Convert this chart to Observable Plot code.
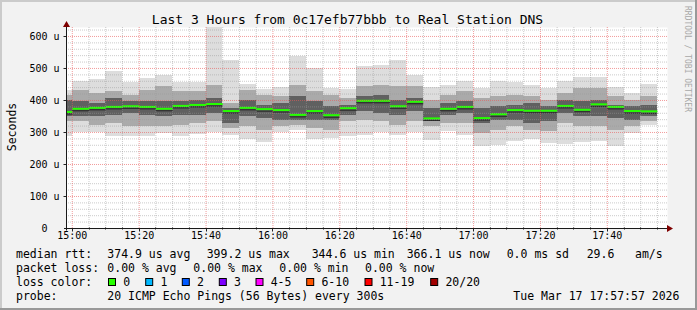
<!DOCTYPE html>
<html><head><meta charset="utf-8">
<script src="https://cdn.jsdelivr.net/npm/d3@7"></script>
<script src="https://cdn.jsdelivr.net/npm/@observablehq/plot@0.6"></script>
<style>html,body{margin:0;padding:0;background:#f2f2f2;} svg{display:block}</style>
</head><body><div id="chart"></div>
<script>
// ---------- data ----------
const day = "2026-03-17";
const slots = ["14:55","15:00","15:05","15:10","15:15","15:20","15:25","15:30","15:35","15:40","15:45","15:50",
  "15:55","16:00","16:05","16:10","16:15","16:20","16:25","16:30","16:35","16:40","16:45","16:50",
  "16:55","17:00","17:05","17:10","17:15","17:20","17:25","17:30","17:35","17:40","17:45","17:50"];
// RTT in microseconds
const rttMax = [432,460,466,489,456,470,479,455,455,640,526,451,434,441,536,500,437,434,505,508,526,479,440,448,458,437,458,455,448,437,458,472,472,440,422,451];
const rttHi1 = [417,432,422,427,417,432,443,427,427,448,391,432,417,411,448,427,417,406,443,448,443,443,401,417,427,406,411,417,411,401,422,437,437,411,401,411];
const rttHi2 = [401,396,391,406,396,396,396,396,401,406,375,401,385,391,411,396,380,385,411,417,401,406,375,391,396,375,380,385,391,380,401,396,401,385,380,385];
const rttMed = [364,374,377,380,382,380,374,383,386,389,367,377,373,370,355,367,354,376,399,399,382,396,344,374,380,345,357,370,368,368,383,371,388,380,367,366];
const rttLo2 = [349,349,349,354,359,354,349,354,354,359,328,349,344,338,338,338,338,354,365,359,354,365,335,354,359,328,338,338,328,333,359,349,349,344,338,349];
const rttLo1 = [333,333,323,328,318,318,318,323,328,333,312,318,307,318,323,312,307,333,338,333,323,333,318,328,328,297,307,318,307,302,328,318,318,307,318,333];
const rttMin = [289,299,299,286,289,289,297,289,295,300,290,277,268,300,305,278,280,288,292,299,292,300,276,302,292,255,258,273,277,267,263,269,271,257,298,323];
const bucketMinutes = 5;
const viewStart = "14:58:16", viewEnd = "17:58:00";
const xTickLabels = ["15:00","15:20","15:40","16:00","16:20","16:40","17:00","17:20","17:40"];
const yTicks = [0,100,200,300,400,500,600];
const yTickLabels = ["0","100 u","200 u","300 u","400 u","500 u","600 u"];
const yMax = 628;

const title = "Last 3 Hours from 0c17efb77bbb to Real Station DNS";
const yLabel = "Seconds";
const watermark = "RRDTOOL / TOBI OETIKER";
const rttStats = [["374.9 us avg",107.3],["399.2 us max",206.7],["344.6 us min",311.7],["366.1 us now",406.7],["0.0 ms sd",506.7],["29.6",586.7],["am/s",635]];
const lossStats = [["0.00 % avg",107.3],["0.00 % max",193.3],["0.00 % min",279.3],["0.00 % now",365]];
const lossLabels = ["0","1","2","3","4-5","6-10","11-19","20/20"];
const lossColors = ["#26ff00","#00b8ff","#0059ff","#7e00ff","#ff00ff","#ff5500","#ff0000","#a10000"];
const lossBoxX = [108.5,145.7,182.3,219.3,256,306.7,365,430.7];
const probeText = "20 ICMP Echo Pings (56 Bytes) every 300s";
const stamp = "Tue Mar 17 17:57:57 2026";

// ---------- build ----------
const t = s => new Date(`${day}T${s.length === 5 ? s + ":00" : s}Z`);
const rows = slots.map((s, i) => ({
  start: t(s), end: new Date(+t(s) + bucketMinutes * 60000),
  max: rttMax[i], hi1: rttHi1[i], hi2: rttHi2[i], med: rttMed[i], lo2: rttLo2[i], lo1: rttLo1[i], min: rttMin[i]
}));
const xDomain = [t(viewStart), t(viewEnd)];
const majorX = xTickLabels.map(t);
const minorX = d3.utcMinute.every(5).range(t("15:00"), xDomain[1]).filter(d => d.getUTCMinutes() % 20 !== 0);
const majorY = yTicks.filter(v => v > 0);
const minorY = d3.range(20, yMax, 20).filter(v => v % 100 !== 0);

const W = 697, H = 310, mL = 66, mR = 30, mT = 27, mB = 82;
const FONT = "DejaVu Sans Mono";

const band = (lo, hi, fill) => Plot.rect(rows, {x1: "start", x2: "end", y1: lo, y2: hi, fill, clip: true, shapeRendering: "crispEdges"});

const chart = Plot.plot({
  width: W, height: H, marginLeft: mL, marginRight: mR, marginTop: mT, marginBottom: mB,
  style: {background: "#f2f2f2", fontFamily: FONT, fontSize: "10px", color: "#000", overflow: "visible"},
  x: {type: "utc", domain: xDomain, axis: null},
  y: {domain: [0, yMax], axis: null},
  marks: [
    Plot.frame({fill: "white", stroke: "none"}),
    band("min", "max", "#dddddd"),
    band("lo1", "hi1", "#aaaaaa"),
    band("lo2", "hi2", "#606060"),
    Plot.link(rows, {x1: "start", x2: "end", y1: "med", y2: "med", stroke: "#222", strokeWidth: 1, dy: 2, clip: true}),
    Plot.link(rows, {x1: "start", x2: "end", y1: "med", y2: "med", stroke: lossColors[0], strokeWidth: 2, clip: true}),
    Plot.ruleX(minorX, {stroke: "#9a9a9a", strokeOpacity: 0.5, strokeDasharray: "1,1"}),
    Plot.ruleY(minorY, {stroke: "#9a9a9a", strokeOpacity: 0.5, strokeDasharray: "1,1"}),
    Plot.ruleX(majorX, {stroke: "#e85a5a", strokeOpacity: 0.6, strokeDasharray: "1,1"}),
    Plot.ruleY(majorY, {stroke: "#e85a5a", strokeOpacity: 0.6, strokeDasharray: "1,1"}),
    Plot.text(xTickLabels, {x: d => t(d), text: d => d, frameAnchor: "bottom", dy: 10, fontSize: 10, fill: "#000"}),
    Plot.text(yTicks.slice(1), {y: d => d, text: yTickLabels.slice(1), frameAnchor: "left", textAnchor: "end", dx: -7, fontSize: 10, fill: "#000"}),
    Plot.text(yTicks.slice(0, 1), {y: d => d, text: yTickLabels.slice(0, 1), frameAnchor: "left", textAnchor: "end", dx: -19, fontSize: 10, fill: "#000"})
  ]
});
document.getElementById("chart").appendChild(chart);

// ---------- decorations (axes, arrows, title, legend) ----------
const svg = d3.select(chart);
const xs = d3.scaleUtc().domain(xDomain).range([mL, W - mR]);
const ys = d3.scaleLinear().domain([0, yMax]).range([H - mB, mT]);
const axisY = H - mB + 0.5, axisX = mL + 0.5;
const deco = svg.append("g");
deco.selectAll(".xt").data(majorX).join("line")
  .attr("x1", d => Math.round(xs(d)) + 0.5).attr("x2", d => Math.round(xs(d)) + 0.5)
  .attr("y1", axisY).attr("y2", axisY + 3).attr("stroke", "#222");
deco.selectAll(".xm").data(minorX).join("line")
  .attr("x1", d => Math.round(xs(d)) + 0.5).attr("x2", d => Math.round(xs(d)) + 0.5)
  .attr("y1", axisY - 1).attr("y2", axisY + 1).attr("stroke", "#222");
deco.selectAll(".yt").data(majorY).join("line")
  .attr("x1", axisX - 3).attr("x2", axisX)
  .attr("y1", d => Math.round(ys(d)) + 0.5).attr("y2", d => Math.round(ys(d)) + 0.5).attr("stroke", "#222");
deco.append("line").attr("x1", mL - 2).attr("x2", W - mR + 2).attr("y1", axisY).attr("y2", axisY).attr("stroke", "#1a1a1a");
deco.append("line").attr("x1", axisX).attr("x2", axisX).attr("y1", axisY + 2).attr("y2", mT - 2).attr("stroke", "#1a1a1a");
deco.append("path").attr("d", `M${W - mR + 6},${axisY} L${W - mR},${axisY - 3.5} L${W - mR},${axisY + 3.5} Z`).attr("fill", "#7f0000");
deco.append("path").attr("d", `M${axisX},${mT - 6} L${axisX - 3.5},${mT} L${axisX + 3.5},${mT} Z`).attr("fill", "#7f0000");

const txt = svg.append("g").attr("font-family", FONT).attr("fill", "#000").attr("text-anchor", "start").style("white-space", "pre");
txt.append("text").attr("x", 347.5).attr("y", 24).attr("text-anchor", "middle").attr("font-size", 13).text(title);
txt.append("text").attr("transform", "translate(15.5,127) rotate(-90)").attr("text-anchor", "middle").attr("font-size", 11.5).text(yLabel);
txt.append("text").attr("transform", "translate(685,59) rotate(90)").attr("text-anchor", "middle").attr("font-size", 8).attr("fill", "#a8a8a8").text(watermark);

const LX = 16, FS = 11.5;
const line = (y, label, items) => {
  txt.append("text").attr("x", LX).attr("y", y).attr("font-size", FS).attr("text-anchor", "start").text(label);
  items.forEach(([s, x]) => txt.append("text").attr("x", x).attr("y", y).attr("font-size", FS).attr("text-anchor", "start").text(s));
};
line(258, "median rtt:", rttStats);
line(272, "packet loss:", lossStats);
line(286, "loss color:", []);
lossLabels.forEach((lab, i) => {
  txt.append("rect").attr("x", lossBoxX[i]).attr("y", 278.5).attr("width", 7).attr("height", 7)
    .attr("fill", lossColors[i]).attr("stroke", "#000").attr("stroke-width", 1);
  txt.append("text").attr("x", lossBoxX[i] + 14.7).attr("y", 286).attr("font-size", FS).attr("text-anchor", "start").text(lab);
});
line(300, "probe:", [[probeText, 107.3], [stamp, 513.3]]);

const fr = svg.append("g");
fr.append("rect").attr("x", 0).attr("y", 0).attr("width", W).attr("height", 2).attr("fill", "#cbcbcb");
fr.append("rect").attr("x", 0).attr("y", 0).attr("width", 2).attr("height", H).attr("fill", "#cbcbcb");
fr.append("rect").attr("x", 0).attr("y", H - 2).attr("width", W).attr("height", 2).attr("fill", "#999999");
fr.append("rect").attr("x", W - 2).attr("y", 0).attr("width", 2).attr("height", H).attr("fill", "#999999");
</script></body></html>
